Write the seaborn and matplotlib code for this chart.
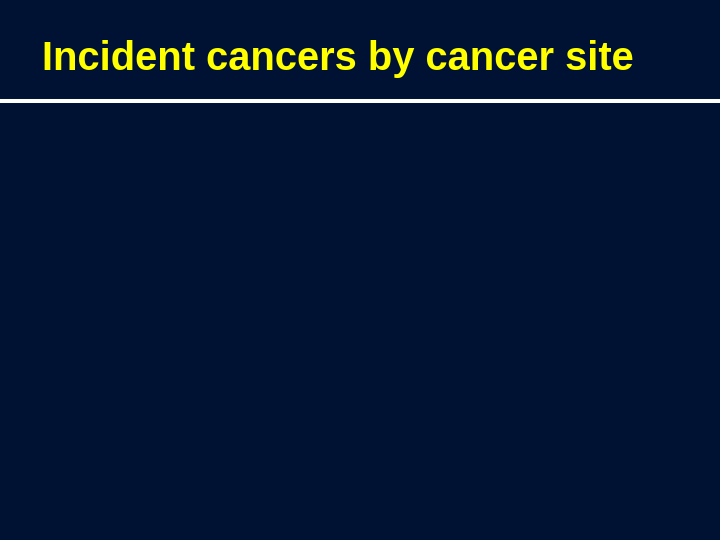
import matplotlib
matplotlib.use("Agg")
import matplotlib.pyplot as plt
import seaborn as sns
from matplotlib.lines import Line2D

# Slide content: only a title and a rule, the body is empty
title_text = "Incident cancers by cancer site"
bg_color = "#001234"
title_color = "#ffff00"

sns.set_theme(style="white")
plt.rcParams['font.family'] = ['Liberation Sans', 'DejaVu Sans']

fig = plt.figure(figsize=(7.2, 5.4), dpi=100)
fig.patch.set_facecolor(bg_color)

ax = fig.add_axes([0, 0, 1, 1])
ax.set_facecolor(bg_color)
ax.set_axis_off()

# title, left aligned, baseline at about y=70 px
fig.text(42 / 720, 1 - 70 / 540, title_text, color=title_color,
         fontsize=28.75, fontweight='bold', ha='left', va='baseline')

# white rule under the title
fig.add_artist(Line2D([0, 1], [1 - 101 / 540, 1 - 101 / 540],
                      color='white', linewidth=2.9, transform=fig.transFigure))

fig.savefig("out.png", dpi=100, facecolor=bg_color)
